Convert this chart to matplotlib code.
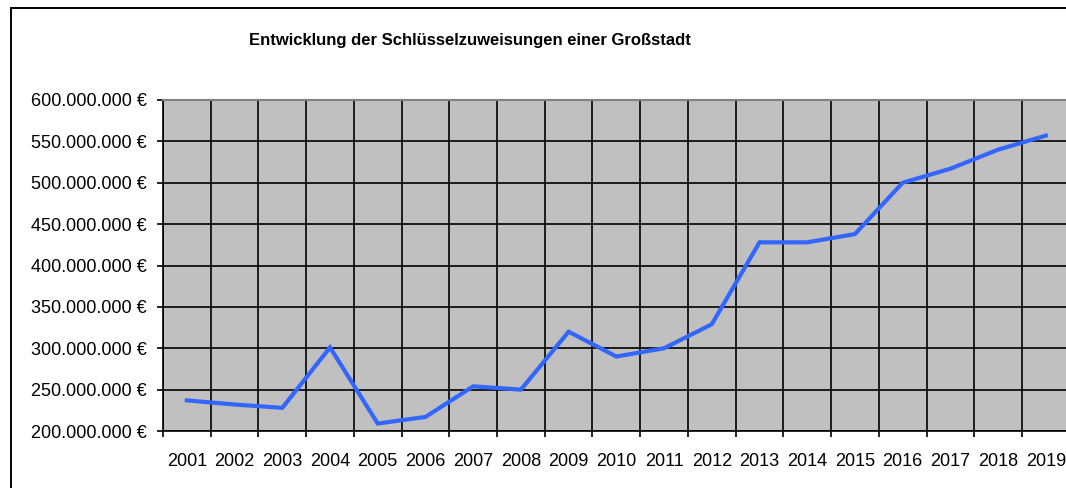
import matplotlib.pyplot as plt
from matplotlib.ticker import FuncFormatter, MultipleLocator
from matplotlib.patches import Rectangle

plt.rcParams['font.family'] = ['Liberation Sans', 'DejaVu Sans']

## data
years = [str(y) for y in range(2001, 2020)]
werte = [237, 232, 228, 301, 209, 217, 254, 250, 320, 290,
         300, 329, 428, 428, 438, 500, 517, 540, 557]  # Mio. EUR
werte = [w * 1e6 for w in werte]

W, H = 1066, 488
fig = plt.figure(figsize=(W / 100, H / 100), dpi=100)

# Rahmen um das Diagramm (rechts/unten abgeschnitten)
fig.patches.append(Rectangle((11 / W, -0.1), 1.2, (H - 8) / H + 0.1,
                             transform=fig.transFigure, fill=False,
                             edgecolor='black', lw=1.4))

cat_w = 47.72
ax = fig.add_axes([163 / W, (H - 431) / H, 19 * cat_w / W, 331 / H])
ax.set_facecolor('#C0C0C0')

x = list(range(len(years)))
ax.plot(x, werte, color='#3366FF', lw=3.0, solid_joinstyle='miter', zorder=3)

ax.set_xlim(-0.5, len(years) - 0.5)
ax.set_ylim(200e6, 600e6)
ax.yaxis.set_major_locator(MultipleLocator(50e6))
ax.yaxis.set_major_formatter(FuncFormatter(lambda v, p: f"{v:,.0f}".replace(",", ".") + " €"))

ax.set_xticks(x)
ax.set_xticklabels(years)
ax.set_xticks([i - 0.5 for i in range(len(years) + 1)], minor=True)
ax.tick_params(axis='x', which='major', length=0, pad=16, labelsize=13)
ax.tick_params(axis='x', which='minor', length=4.5, width=1.2, direction='out')
ax.tick_params(axis='y', length=4.5, width=1.2, direction='out', pad=7, labelsize=13)

ax.grid(True, axis='y', which='major', color='black', lw=1.2, zorder=1)
ax.grid(True, axis='x', which='minor', color='black', lw=1.2, zorder=1)
ax.set_axisbelow(True)

ax.spines['top'].set_color('#808080')
ax.spines['top'].set_linewidth(1.5)
ax.spines['right'].set_visible(False)
ax.spines['left'].set_linewidth(1.2)
ax.spines['bottom'].set_linewidth(1.2)

fig.text(470 / W, 1 - 40 / H, "Entwicklung der Schlüsselzuweisungen einer Großstadt",
         ha='center', va='center', fontsize=12, fontweight='bold')

fig.savefig('out.png', dpi=100)
